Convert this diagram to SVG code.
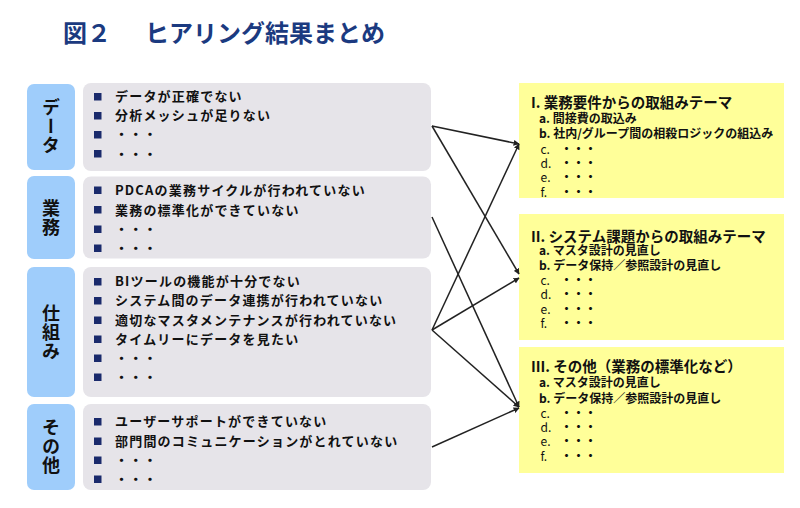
<svg xmlns="http://www.w3.org/2000/svg" width="800" height="508" viewBox="0 0 800 508">
<style>
text{font-family:"Noto Sans CJK JP","Noto Sans CJK SC",sans-serif;fill:#111}
.title{font-size:24px;font-weight:bold;fill:#1b3a80}
.lab{fill:#9fcdfb}
.grey{fill:#e6e4e9}
.yel{fill:#ffff99}
.vt{font-size:18px;font-weight:bold;writing-mode:vertical-rl;text-anchor:middle;letter-spacing:1px}
.li{font-size:13px;font-weight:bold;letter-spacing:1.2px}
.bul{fill:#1a2a6c}
.yt{font-size:14.5px;font-weight:bold}
.yi{font-size:12px;font-weight:bold}
.yd{font-size:12px}
.con line{stroke:#222;stroke-width:1.5;fill:none;marker-end:url(#ah)}
</style>
<defs>
<marker id="ah" viewBox="0 0 10 10" refX="9" refY="5" markerWidth="6" markerHeight="6" markerUnits="userSpaceOnUse" orient="auto">
<path d="M0,0 L10,5 L0,10 z" fill="#222"/>
</marker>
<rect id="b" width="7.5" height="7.5" class="bul"/>
</defs>
<rect width="800" height="508" fill="#fff"/>
<text class="title" x="63" y="42">図２<tspan x="145">ヒアリング結果まとめ</tspan></text>

<g id="data">
<rect class="lab" x="27" y="84" width="48" height="86" rx="7"/>
<text class="vt" x="51" y="127">データ</text>
<rect class="grey" x="83" y="83" width="348" height="88" rx="8"/>
<use href="#b" x="94" y="93"/><text class="li" x="115" y="101">データが正確でない</text>
<use href="#b" x="94" y="112"/><text class="li" x="115" y="120">分析メッシュが足りない</text>
<use href="#b" x="94" y="131"/><text class="li" x="115" y="139">・・・</text>
<use href="#b" x="94" y="150"/><text class="li" x="115" y="158.5">・・・</text>
</g>

<g id="gyomu">
<rect class="lab" x="27" y="176" width="48" height="83" rx="7"/>
<text class="vt" x="51" y="218">業務</text>
<rect class="grey" x="83" y="176.5" width="348" height="82" rx="8"/>
<use href="#b" x="94" y="186.5"/><text class="li" x="115" y="194.5">PDCAの業務サイクルが行われていない</text>
<use href="#b" x="94" y="206"/><text class="li" x="115" y="214.5">業務の標準化ができていない</text>
<use href="#b" x="94" y="225.5"/><text class="li" x="115" y="233.5">・・・</text>
<use href="#b" x="94" y="244.5"/><text class="li" x="115" y="253">・・・</text>
</g>

<g id="shikumi">
<rect class="lab" x="27" y="267" width="48" height="130" rx="7"/>
<text class="vt" x="51" y="333">仕組み</text>
<rect class="grey" x="83" y="267" width="348" height="130" rx="8"/>
<use href="#b" x="94" y="278"/><text class="li" x="115" y="286">BIツールの機能が十分でない</text>
<use href="#b" x="94" y="297"/><text class="li" x="115" y="305">システム間のデータ連携が行われていない</text>
<use href="#b" x="94" y="316.5"/><text class="li" x="115" y="324.5">適切なマスタメンテナンスが行われていない</text>
<use href="#b" x="94" y="335.5"/><text class="li" x="115" y="343.5">タイムリーにデータを見たい</text>
<use href="#b" x="94" y="354.5"/><text class="li" x="115" y="363">・・・</text>
<use href="#b" x="94" y="373.5"/><text class="li" x="115" y="382">・・・</text>
</g>

<g id="sonota">
<rect class="lab" x="27" y="404" width="48" height="86" rx="7"/>
<text class="vt" x="51" y="447">その他</text>
<rect class="grey" x="83" y="404" width="348" height="86" rx="8"/>
<use href="#b" x="94" y="418"/><text class="li" x="115" y="426">ユーザーサポートができていない</text>
<use href="#b" x="94" y="437.5"/><text class="li" x="115" y="445.5">部門間のコミュニケーションがとれていない</text>
<use href="#b" x="94" y="456.5"/><text class="li" x="115" y="464.5">・・・</text>
<use href="#b" x="94" y="475.5"/><text class="li" x="115" y="484">・・・</text>
</g>

<g id="theme1">
<rect class="yel" x="519" y="83" width="265" height="115"/>
<text class="yt" x="531" y="108">I. 業務要件からの取組みテーマ</text>
<text class="yi" x="539" y="123">a. 間接費の取込み</text>
<text class="yi" x="539" y="138">b. 社内/グループ間の相殺ロジックの組込み</text>
<text class="yd" x="540.5" y="153.5">c.<tspan x="560.5" class="yi">・・・</tspan></text>
<text class="yd" x="540.5" y="168">d.<tspan x="560.5" class="yi">・・・</tspan></text>
<text class="yd" x="540.5" y="182">e.<tspan x="560.5" class="yi">・・・</tspan></text>
<text class="yd" x="540.5" y="196.5">f.<tspan x="560.5" class="yi">・・・</tspan></text>
</g>

<g id="theme2">
<rect class="yel" x="519" y="214" width="265" height="126"/>
<text class="yt" x="531" y="242">II. システム課題からの取組みテーマ</text>
<text class="yi" x="539" y="254.5">a. マスタ設計の見直し</text>
<text class="yi" x="539" y="269.5">b. データ保持／参照設計の見直し</text>
<text class="yd" x="540.5" y="284.5">c.<tspan x="560.5" class="yi">・・・</tspan></text>
<text class="yd" x="540.5" y="298.5">d.<tspan x="560.5" class="yi">・・・</tspan></text>
<text class="yd" x="540.5" y="313.5">e.<tspan x="560.5" class="yi">・・・</tspan></text>
<text class="yd" x="540.5" y="327.5">f.<tspan x="560.5" class="yi">・・・</tspan></text>
</g>

<g id="theme3">
<rect class="yel" x="519" y="347" width="265" height="126"/>
<text class="yt" x="531" y="372">III. その他（業務の標準化など）</text>
<text class="yi" x="539" y="387">a. マスタ設計の見直し</text>
<text class="yi" x="539" y="402.5">b. データ保持／参照設計の見直し</text>
<text class="yd" x="540.5" y="417.5">c.<tspan x="560.5" class="yi">・・・</tspan></text>
<text class="yd" x="540.5" y="431.5">d.<tspan x="560.5" class="yi">・・・</tspan></text>
<text class="yd" x="540.5" y="446">e.<tspan x="560.5" class="yi">・・・</tspan></text>
<text class="yd" x="540.5" y="461">f.<tspan x="560.5" class="yi">・・・</tspan></text>
</g>

<g class="con" id="connectors">
<line x1="432" y1="126" x2="519" y2="144"/>
<line x1="432" y1="126" x2="519" y2="274"/>
<line x1="432" y1="217" x2="519" y2="407"/>
<line x1="432" y1="330" x2="519" y2="144"/>
<line x1="432" y1="330" x2="519" y2="278"/>
<line x1="432" y1="330" x2="519" y2="407"/>
<line x1="432" y1="447" x2="519" y2="408"/>
</g>
</svg>
